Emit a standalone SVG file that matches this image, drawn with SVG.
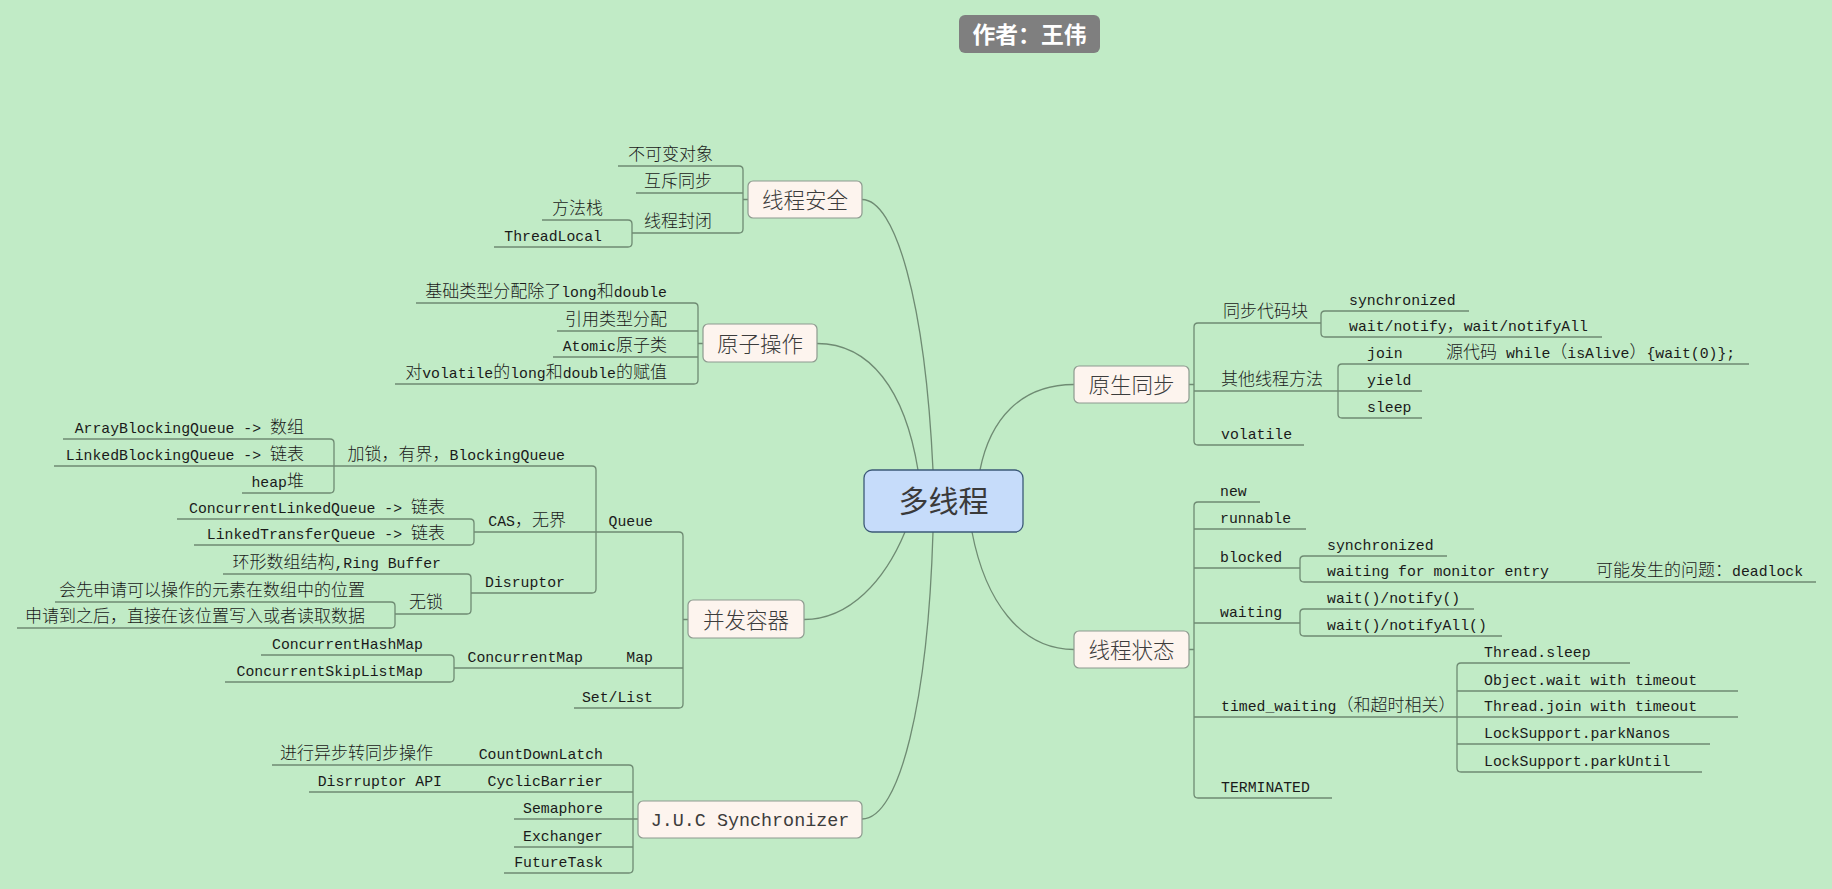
<svg xmlns="http://www.w3.org/2000/svg" width="1832" height="889" viewBox="0 0 1832 889">
<style>
.ln{fill:none;stroke:#6f8b73;stroke-width:1.3}
.t{font-family:"Liberation Mono","Noto Sans CJK SC",monospace;font-size:14.8px;fill:#1a1a1a}
.c{font-family:"Noto Sans CJK SC",sans-serif;font-size:17px;font-weight:300}
.e{text-anchor:end}
.nd rect{fill:#fdf4ee;stroke:#8e9a8f;stroke-width:1.2}
.nt{font-family:"Noto Sans CJK SC",sans-serif;font-size:21.5px;font-weight:300;fill:#3c3c3c;text-anchor:middle}
</style>
<rect width="1832" height="889" fill="#c1ebc6"/>

<g id="connectors">
<path class="ln" d="M862,199.5 C895,199.5 925,300 933,470"/>
<path class="ln" d="M817,343.5 C870,343.5 905,390 918,470"/>
<path class="ln" d="M804,619.5 C850,619.5 885,580 905,532"/>
<path class="ln" d="M862,819 C900,819 928,700 933,532"/>
<path class="ln" d="M980,470 C990,420 1020,384.5 1074,384.5"/>
<path class="ln" d="M972,532 C985,600 1020,649.5 1074,649.5"/>

<path class="ln" d="M618,166 H739 Q743,166 743,170 V229 Q743,233 739,233 H632"/>
<path class="ln" d="M636,193 H743 M743,199.5 H748"/>
<path class="ln" d="M542,220 H628 Q632,220 632,224 V243 Q632,247 628,247 H494"/>

<path class="ln" d="M416,303 H694 Q698,303 698,307 V380 Q698,384 694,384 H395"/>
<path class="ln" d="M557,331 H698 M553,357 H698 M698,343.5 H703"/>

<path class="ln" d="M596,532 H679 Q683,532 683,536 V704 Q683,708 679,708 H574"/>
<path class="ln" d="M454,668 H683 M683,619.5 H688"/>
<path class="ln" d="M334,466 H592 Q596,466 596,470 V589 Q596,593 592,593 H471"/>
<path class="ln" d="M54,466 H334 M474,532 H596"/>
<path class="ln" d="M63,439 H330 Q334,439 334,443 V489 Q334,493 330,493 H242"/>
<path class="ln" d="M177,519 H470 Q474,519 474,523 V541 Q474,545 470,545 H194"/>
<path class="ln" d="M223,574 H467 Q471,574 471,578 V610 Q471,614 467,614 H395"/>
<path class="ln" d="M55,602 H391 Q395,602 395,606 V624 Q395,628 391,628 H17"/>
<path class="ln" d="M261,655 H450 Q454,655 454,659 V678 Q454,682 450,682 H225"/>

<path class="ln" d="M272,765 H629 Q633,765 633,769 V869 Q633,873 629,873 H504"/>
<path class="ln" d="M309,792 H633 M514,819 H638 M514,847 H633"/>

<path class="ln" d="M1321,323 H1198 Q1194,323 1194,327 V441 Q1194,445 1198,445 H1304"/>
<path class="ln" d="M1189,384.5 H1194 M1194,391 H1422"/>
<path class="ln" d="M1469,311 H1325 Q1321,311 1321,315 V333 Q1321,337 1325,337 H1602"/>
<path class="ln" d="M1749,364 H1342 Q1338,364 1338,368 V414 Q1338,418 1342,418 H1422"/>

<path class="ln" d="M1260,502 H1198 Q1194,502 1194,506 V794 Q1194,798 1198,798 H1332"/>
<path class="ln" d="M1194,529 H1306 M1194,568 H1300 M1194,623 H1300 M1194,717 H1738 M1189,649.5 H1194"/>
<path class="ln" d="M1447,556 H1304 Q1300,556 1300,560 V578 Q1300,582 1304,582 H1816"/>
<path class="ln" d="M1474,609 H1304 Q1300,609 1300,613 V632 Q1300,636 1304,636 H1502"/>
<path class="ln" d="M1630,663 H1461 Q1457,663 1457,667 V768 Q1457,772 1461,772 H1702"/>
<path class="ln" d="M1457,691 H1738 M1457,744 H1710"/>
</g>

<g id="author">
<rect x="959" y="15" width="141" height="38" rx="6" fill="#7f7f7f"/>
<text x="1029.5" y="42.5" font-family="Noto Sans CJK SC, sans-serif" font-size="22.8" font-weight="bold" fill="#ffffff" text-anchor="middle">作者：王伟</text>
</g>

<g id="root">
<rect x="864" y="470" width="159" height="62" rx="8" fill="#c6dcfa" stroke="#3c5a78" stroke-width="1.3"/>
<text x="943.5" y="512" font-family="Noto Sans CJK SC, sans-serif" font-size="30" fill="#3a3a3a" text-anchor="middle">多线程</text>
</g>

<g id="n-thread-safe" class="nd">
<rect x="748" y="181" width="114" height="37" rx="5"/>
<text class="nt" x="805" y="207.5">线程安全</text>
<text class="t c e" x="713" y="160">不可变对象</text>
<text class="t c e" x="712" y="187">互斥同步</text>
<text class="t c e" x="712" y="227">线程封闭</text>
<text class="t c e" x="603" y="214">方法栈</text>
<text class="t e" x="602" y="241">ThreadLocal</text>
</g>

<g id="n-atomic" class="nd">
<rect x="703" y="324" width="114" height="38" rx="5"/>
<text class="nt" x="760" y="351.5">原子操作</text>
<text class="t e" x="667" y="297"><tspan class="c">基础类型分配除了</tspan>long<tspan class="c">和</tspan>double</text>
<text class="t c e" x="667" y="325">引用类型分配</text>
<text class="t e" x="667" y="351">Atomic<tspan class="c">原子类</tspan></text>
<text class="t e" x="667" y="378"><tspan class="c">对</tspan>volatile<tspan class="c">的</tspan>long<tspan class="c">和</tspan>double<tspan class="c">的赋值</tspan></text>
</g>

<g id="n-containers" class="nd">
<rect x="688" y="600" width="116" height="38" rx="5"/>
<text class="nt" x="746" y="627.5">并发容器</text>
<text class="t e" x="653" y="526">Queue</text>
<text class="t e" x="565" y="460"><tspan class="c">加锁，有界，</tspan>BlockingQueue</text>
<text class="t e" x="304" y="433">ArrayBlockingQueue -&gt; <tspan class="c">数组</tspan></text>
<text class="t e" x="304" y="460">LinkedBlockingQueue -&gt; <tspan class="c">链表</tspan></text>
<text class="t e" x="304" y="487">heap<tspan class="c">堆</tspan></text>
<text class="t e" x="566" y="526">CAS<tspan class="c">，无界</tspan></text>
<text class="t e" x="445" y="513">ConcurrentLinkedQueue -&gt; <tspan class="c">链表</tspan></text>
<text class="t e" x="445" y="539">LinkedTransferQueue -&gt; <tspan class="c">链表</tspan></text>
<text class="t e" x="565" y="587">Disruptor</text>
<text class="t e" x="441" y="568"><tspan class="c">环形数组结构</tspan>,Ring Buffer</text>
<text class="t c e" x="443" y="608">无锁</text>
<text class="t c e" x="365" y="596">会先申请可以操作的元素在数组中的位置</text>
<text class="t c e" x="365" y="622">申请到之后，直接在该位置写入或者读取数据</text>
<text class="t e" x="653" y="662">Map</text>
<text class="t e" x="583" y="662">ConcurrentMap</text>
<text class="t e" x="423" y="649">ConcurrentHashMap</text>
<text class="t e" x="423" y="676">ConcurrentSkipListMap</text>
<text class="t e" x="653" y="702">Set/List</text>
</g>

<g id="n-juc" class="nd">
<rect x="638" y="801" width="224" height="37" rx="5"/>
<text x="750" y="826" font-family="Liberation Mono, monospace" font-size="18.4" fill="#3c3c3c" text-anchor="middle">J.U.C Synchronizer</text>
<text class="t e" x="603" y="759">CountDownLatch</text>
<text class="t c e" x="433" y="759">进行异步转同步操作</text>
<text class="t e" x="603" y="786">CyclicBarrier</text>
<text class="t e" x="442" y="786">Disrruptor API</text>
<text class="t e" x="603" y="813">Semaphore</text>
<text class="t e" x="603" y="841">Exchanger</text>
<text class="t e" x="603" y="867">FutureTask</text>
</g>

<g id="n-native-sync" class="nd">
<rect x="1074" y="366" width="115" height="37" rx="5"/>
<text class="nt" x="1131.5" y="392.5">原生同步</text>
<text class="t c" x="1223" y="317">同步代码块</text>
<text class="t" x="1349" y="305">synchronized</text>
<text class="t" x="1349" y="331">wait/notify<tspan class="c">，</tspan>wait/notifyAll</text>
<text class="t c" x="1221" y="385">其他线程方法</text>
<text class="t" x="1367" y="358">join</text>
<text class="t" x="1446" y="358"><tspan class="c">源代码</tspan> while<tspan class="c">（</tspan>isAlive<tspan class="c">）</tspan>{wait(0)};</text>
<text class="t" x="1367" y="385">yield</text>
<text class="t" x="1367" y="412">sleep</text>
<text class="t" x="1221" y="439">volatile</text>
</g>

<g id="n-thread-state" class="nd">
<rect x="1074" y="631" width="115" height="37" rx="5"/>
<text class="nt" x="1131.5" y="657.5">线程状态</text>
<text class="t" x="1220" y="496">new</text>
<text class="t" x="1220" y="523">runnable</text>
<text class="t" x="1220" y="562">blocked</text>
<text class="t" x="1327" y="550">synchronized</text>
<text class="t" x="1327" y="576">waiting for monitor entry</text>
<text class="t" x="1596" y="576"><tspan class="c">可能发生的问题：</tspan>deadlock</text>
<text class="t" x="1220" y="617">waiting</text>
<text class="t" x="1327" y="603">wait()/notify()</text>
<text class="t" x="1327" y="630">wait()/notifyAll()</text>
<text class="t" x="1221" y="711">timed_waiting<tspan class="c">（和超时相关）</tspan></text>
<text class="t" x="1484" y="657">Thread.sleep</text>
<text class="t" x="1484" y="685">Object.wait with timeout</text>
<text class="t" x="1484" y="711">Thread.join with timeout</text>
<text class="t" x="1484" y="738">LockSupport.parkNanos</text>
<text class="t" x="1484" y="766">LockSupport.parkUntil</text>
<text class="t" x="1221" y="792">TERMINATED</text>
</g>
</svg>
